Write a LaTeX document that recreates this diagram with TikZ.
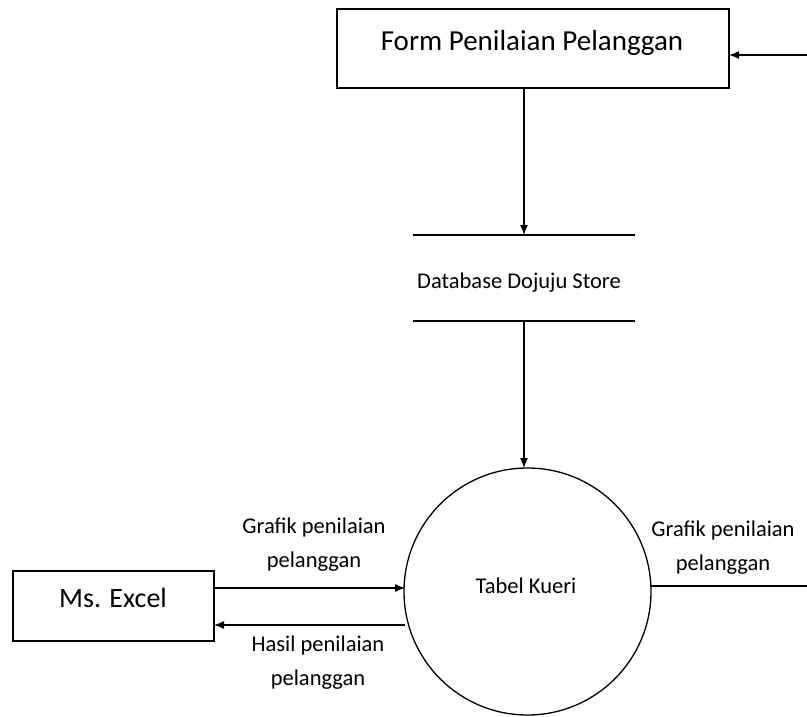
\documentclass[tikz,border=0pt]{standalone}
\usepackage{fontspec}
\setmainfont{Carlito}
\usetikzlibrary{arrows.meta}
\begin{document}
\begin{tikzpicture}[x=1pt,y=-1pt,
  every node/.style={inner sep=0pt,outer sep=0pt},
  ent/.style={draw,line width=1.3pt,rectangle},
  flow/.style={line width=1.3pt,-{Latex[length=10pt,width=8pt]}},
  small/.style={font=\fontsize{22.5}{34}\selectfont},
  lbl/.style={small,align=center},
  ln/.style={line width=1.3pt}]
\useasboundingbox (0,0) rectangle (807,717);
% Form
\node[ent,minimum width=392pt,minimum height=79pt] (form) at (533,48.5) {};
\node[font=\fontsize{29}{34}\selectfont] (formtxt) at (532,43) {Form Penilaian Pelanggan};
\coordinate (rin) at (807,55);
\draw[flow] (rin) -- (rin -| form.east);
% Data store
\coordinate (stTL) at (413,235);
\coordinate (stTR) at (635,235);
\coordinate (stBL) at (413,321);
\coordinate (stBR) at (635,321);
\draw[ln] (stTL) -- (stTR);
\draw[ln] (stBL) -- (stBR);
\node[small] (store) at (519,283) {Database Dojuju Store};
\coordinate (stTop) at (524,235);
\coordinate (stBot) at (524,321);
\draw[flow] (form.south -| stTop) -- (stTop);
% Process
\node[draw,circle,line width=1.3pt,minimum size=247pt] (proc) at (527.5,591.5) {};
\node[small] (proctxt) at (526,586) {Tabel Kueri};
\draw[flow] (stBot) -- (stBot |- proc.north);
% Right output
\coordinate (rout) at (807,586);
\draw[ln] (proc.east |- rout) -- (rout);
\node[lbl] (rlbl) at (723,548) {Grafik penilaian\\pelanggan};
% Ms Excel
\node[ent,minimum width=201pt,minimum height=70pt] (excel) at (113.5,606) {};
\node[font=\fontsize{28}{32}\selectfont] (exceltxt) at (113,598) {Ms. Excel};
\coordinate (a1) at (214,588);
\coordinate (a2) at (214,625);
\draw[flow] (a1) -- (405,588) coordinate (p1);
\draw[flow] (405,625) coordinate (p2) -- (a2);
\node[lbl] (l1) at (314,545) {Grafik penilaian\\pelanggan};
\node[lbl] (l2) at (318,663) {Hasil penilaian\\pelanggan};
\end{tikzpicture}
\end{document}
